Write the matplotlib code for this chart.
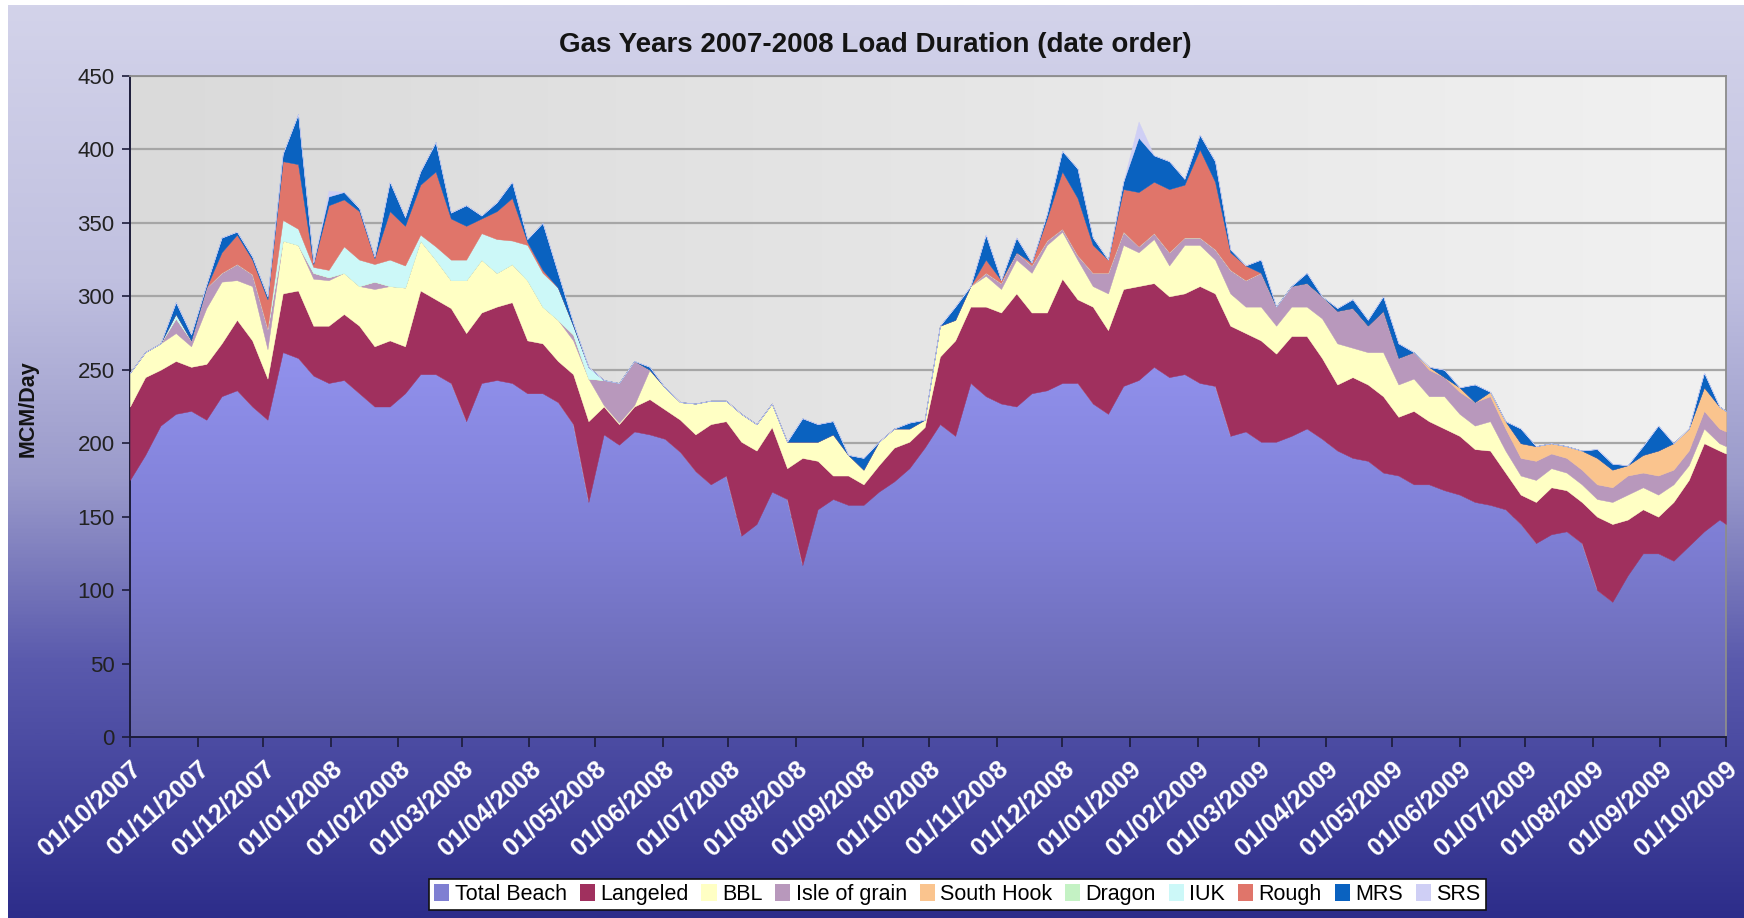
import datetime as dt

import matplotlib
matplotlib.use("Agg")
import matplotlib.dates as mdates
import matplotlib.pyplot as plt
import numpy as np
from matplotlib.colors import LinearSegmentedColormap
from matplotlib.patches import Patch

plt.rcParams["font.family"] = ["Liberation Sans", "DejaVu Sans"]

# weekly readings, 01/10/2007 .. 28/09/2009, plus 01/10/2009
start = dt.date(2007, 10, 1)
dates = [start + dt.timedelta(days=7 * k) for k in range(105)] + [dt.date(2009, 10, 1)]

beach = [175, 192, 212, 220, 222, 216, 232, 236, 225, 216,
         262, 258, 246, 241, 243, 234, 225, 225, 234, 247,
         247, 241, 215, 241, 243, 241, 234, 234, 228, 213,
         160, 206, 199, 208, 206, 203, 194, 181, 172, 178,
         137, 145, 167, 162, 117, 155, 162, 158, 158, 167,
         174, 183, 197, 213, 205, 241, 232, 227, 225, 234,
         236, 241, 241, 227, 220, 239, 243, 252, 245, 247,
         241, 239, 205, 208, 201, 201, 205, 210, 203, 195,
         190, 188, 180, 178, 172, 172, 168, 165, 160, 158,
         155, 145, 132, 138, 140, 132, 100, 92, 110, 125,
         125, 120, 130, 140, 148, 145]
langeled = [50, 53, 38, 36, 30, 38, 36, 48, 45, 28,
            40, 46, 34, 39, 45, 46, 41, 45, 32, 57,
            51, 51, 60, 48, 50, 55, 36, 34, 28, 34,
            55, 19, 14, 17, 24, 20, 22, 25, 41, 37,
            64, 50, 44, 21, 73, 33, 16, 20, 14, 18,
            23, 18, 14, 46, 65, 52, 61, 62, 77, 55,
            53, 71, 57, 66, 57, 66, 64, 57, 55, 55,
            66, 63, 75, 67, 69, 60, 68, 63, 55, 45,
            55, 52, 52, 40, 50, 43, 42, 40, 36, 37,
            25, 20, 28, 32, 28, 28, 50, 53, 38, 30,
            25, 40, 45, 60, 47, 48]
bbl = [23, 17, 18, 19, 14, 38, 42, 27, 37, 20,
       36, 31, 32, 31, 28, 27, 39, 37, 40, 34,
       27, 19, 36, 36, 23, 26, 41, 25, 28, 23,
       29, 1, 1, 1, 20, 15, 12, 21, 16, 14,
       19, 18, 16, 18, 11, 13, 28, 14, 10, 16,
       13, 9, 5, 21, 14, 14, 21, 16, 23, 27,
       46, 32, 27, 14, 25, 30, 23, 30, 21, 33,
       28, 23, 22, 18, 23, 19, 20, 20, 27, 28,
       20, 22, 30, 22, 22, 17, 22, 15, 16, 20,
       15, 13, 15, 13, 12, 12, 12, 15, 17, 15,
       15, 12, 10, 10, 5, 5]
isle_of_grain = [0, 0, 0, 10, 4, 14, 6, 11, 8, 14,
                 0, 0, 4, 2, 0, 0, 5, 0, 0, 0,
                 0, 0, 0, 0, 0, 0, 0, 0, 0, 4,
                 0, 17, 27, 30, 0, 0, 0, 0, 0, 0,
                 0, 0, 0, 0, 0, 0, 0, 0, 0, 0,
                 0, 0, 0, 0, 0, 0, 2, 4, 5, 5,
                 3, 2, 3, 9, 14, 9, 4, 4, 9, 5,
                 5, 7, 16, 18, 23, 13, 14, 16, 15, 22,
                 27, 18, 28, 18, 18, 18, 13, 15, 16, 17,
                 15, 12, 13, 10, 10, 10, 10, 10, 13, 10,
                 13, 10, 10, 12, 10, 10]
south_hook = [0, 0, 0, 0, 0, 0, 0, 0, 0, 0,
              0, 0, 0, 0, 0, 0, 0, 0, 0, 0,
              0, 0, 0, 0, 0, 0, 0, 0, 0, 0,
              0, 0, 0, 0, 0, 0, 0, 0, 0, 0,
              0, 0, 0, 0, 0, 0, 0, 0, 0, 0,
              0, 0, 0, 0, 0, 0, 0, 0, 0, 0,
              0, 0, 0, 0, 0, 0, 0, 0, 0, 0,
              0, 0, 0, 0, 0, 0, 0, 0, 0, 0,
              0, 0, 0, 0, 0, 2, 0, 3, 0, 3,
              5, 10, 10, 7, 8, 13, 18, 12, 7, 12,
              17, 18, 15, 16, 15, 14]
dragon = [0] * 106  # no visible Dragon band anywhere
iuk = [0, 0, 0, 3, 0, 0, 0, 0, 0, 0,
       14, 11, 4, 5, 18, 18, 12, 18, 15, 4,
       9, 14, 14, 18, 23, 16, 24, 23, 22, 6,
       8, 0, 0, 0, 0, 0, 0, 0, 0, 0,
       0, 0, 0, 0, 0, 0, 0, 0, 0, 0,
       0, 0, 0, 0, 0, 0, 0, 0, 0, 0,
       0, 0, 0, 0, 0, 0, 0, 0, 0, 0,
       0, 0, 0, 0, 0, 0, 0, 0, 0, 0,
       0, 0, 0, 0, 0, 0, 0, 0, 0, 0,
       0, 0, 0, 0, 0, 0, 0, 0, 0, 0,
       0, 0, 0, 0, 0, 0]
rough = [0, 0, 0, 0, 0, 0, 14, 20, 10, 20,
         40, 44, 2, 44, 32, 33, 4, 33, 27, 34,
         51, 28, 23, 10, 19, 29, 2, 2, 0, 0,
         0, 0, 0, 0, 0, 0, 0, 0, 0, 0,
         0, 0, 0, 0, 0, 0, 0, 0, 0, 0,
         0, 0, 0, 0, 0, 0, 9, 2, 0, 2,
         15, 39, 39, 19, 9, 29, 37, 35, 43, 36,
         60, 46, 12, 10, 0, 0, 0, 0, 0, 0,
         0, 0, 0, 0, 0, 0, 0, 0, 0, 0,
         0, 0, 0, 0, 0, 0, 0, 0, 0, 0,
         0, 0, 0, 0, 0, 0]
mrs = [0, 0, 0, 8, 4, 2, 10, 2, 2, 2,
       5, 34, 1, 6, 5, 2, 1, 20, 6, 9,
       20, 4, 14, 2, 6, 11, 2, 32, 10, 2,
       0, 0, 0, 0, 2, 0, 0, 0, 0, 0,
       0, 0, 0, 0, 16, 12, 9, 0, 8, 0,
       0, 4, 0, 0, 9, 0, 17, 0, 10, 0,
       3, 14, 20, 5, 0, 5, 37, 18, 19, 4,
       10, 14, 2, 0, 9, 0, 0, 7, 0, 2,
       6, 4, 10, 10, 0, 0, 5, 0, 12, 0,
       0, 10, 0, 0, 0, 0, 6, 4, 0, 6,
       17, 0, 0, 10, 0, 0]
srs = [0, 0, 0, 0, 0, 0, 0, 0, 0, 0,
       0, 0, 0, 4, 0, 0, 0, 0, 0, 0,
       0, 0, 0, 0, 0, 0, 0, 0, 0, 0,
       0, 0, 0, 0, 0, 0, 0, 0, 0, 0,
       0, 0, 0, 0, 0, 0, 0, 0, 0, 0,
       0, 0, 0, 0, 0, 0, 0, 0, 0, 0,
       0, 0, 0, 0, 0, 0, 11, 0, 0, 0,
       0, 0, 0, 0, 0, 0, 0, 0, 0, 0,
       0, 0, 0, 0, 0, 0, 0, 0, 0, 0,
       0, 0, 0, 0, 0, 0, 0, 0, 0, 0,
       0, 0, 0, 0, 0, 0]

series = [
    ("Total Beach", beach, "#8484dc"),
    ("Langeled", langeled, "#a0305e"),
    ("BBL", bbl, "#ffffc4"),
    ("Isle of grain", isle_of_grain, "#b898bc"),
    ("South Hook", south_hook, "#fac48e"),
    ("Dragon", dragon, "#c4f2c4"),
    ("IUK", iuk, "#ccf8f8"),
    ("Rough", rough, "#e0756a"),
    ("MRS", mrs, "#0a62c0"),
    ("SRS", srs, "#cfcff5"),
]

fig = plt.figure(figsize=(17.44, 9.18), dpi=100)
fig.patch.set_facecolor("white")

# chart area background, light lavender at top to dark blue at bottom
bg = fig.add_axes([0.0046, 0.0, 0.9954, 0.995], zorder=-10)
bg_cmap = LinearSegmentedColormap.from_list(
    "bg", [(0.0, "#2d2d8a"), (0.12, "#40409a"), (0.28, "#5a5aad"),
           (0.48, "#9a9acb"), (0.7, "#c0c0e0"), (1.0, "#d3d3ea")])
bg.imshow(np.linspace(0, 1, 512).reshape(-1, 1), cmap=bg_cmap, aspect="auto",
          origin="lower", extent=[0, 1, 0, 1])
bg.set_axis_off()

ax = fig.add_axes([0.0745, 0.1972, 0.9151, 0.7200])
x = mdates.date2num(dates)

plot_cmap = LinearSegmentedColormap.from_list("plotbg", ["#dadada", "#f1f1f1"])
ax.imshow(np.linspace(0, 1, 256).reshape(1, -1), cmap=plot_cmap, aspect="auto",
          extent=[0, 1, 0, 1], transform=ax.transAxes, zorder=0)

base = np.zeros(len(x))
for i, (name, vals, color) in enumerate(series):
    top = base + np.asarray(vals, dtype=float)
    if i == 0:
        poly = ax.fill_between(x, base, top, facecolor="none", lw=0)
        beach_cmap = LinearSegmentedColormap.from_list("beach", ["#6464ab", "#7e7ed4", "#9292ee"])
        im = ax.imshow(np.linspace(0, 1, 256).reshape(-1, 1), cmap=beach_cmap, origin="lower",
                       aspect="auto", extent=[x[0], x[-1], 0, 265], zorder=2)
        im.set_clip_path(poly.get_paths()[0], transform=ax.transData)
    else:
        ax.fill_between(x, base, top, facecolor=color, edgecolor=color, lw=0.3, zorder=3)
    base = top

ax.set_xlim(x[0], x[-1])
ax.set_ylim(0, 450)
ax.set_yticks(range(0, 451, 50))
ax.yaxis.grid(True, color="#a6a6a6", lw=1.6)
ax.set_axisbelow(True)

ax.xaxis.set_major_locator(mdates.MonthLocator(bymonthday=1))
ax.xaxis.set_major_formatter(mdates.DateFormatter("%d/%m/%Y"))

for side in ("left", "bottom"):
    ax.spines[side].set_color("#1c1c3a")
    ax.spines[side].set_linewidth(1.4)
for side in ("top", "right"):
    ax.spines[side].set_color("#8c8c8c")
    ax.spines[side].set_linewidth(1.3)

ax.tick_params(axis="y", direction="out", length=6, width=1.2, color="#1c1c3a",
               labelsize=16, labelcolor="#222222", pad=5)
ax.tick_params(axis="x", direction="out", length=7, width=1.2, color="#1c1c3a",
               labelsize=18.5, labelcolor="white", pad=7)
for lbl in ax.get_xticklabels():
    lbl.set_rotation(42)
    lbl.set_ha("right")
    lbl.set_va("top")
    lbl.set_rotation_mode("anchor")
    lbl.set_fontweight("bold")

fig.text(0.502, 0.9515, "Gas Years 2007-2008 Load Duration (date order)",
         ha="center", va="center", fontsize=20, fontweight="bold", color="#141414")
fig.text(28 / 1744, 1 - 409 / 918, "MCM/Day", rotation=90, ha="center", va="center",
         fontsize=15.5, fontweight="bold", color="#141414")

handles = [Patch(facecolor=c, edgecolor="none") for _, _, c in series]
handles[0] = Patch(facecolor="#7f7fd2", edgecolor="none")
leg = fig.legend(handles, [n for n, _, _ in series], loc="center",
                 bbox_to_anchor=(0.549, 0.0256), ncol=10, frameon=True, fancybox=False,
                 fontsize=15.5, handlelength=0.7, handleheight=0.8, handletextpad=0.25,
                 columnspacing=0.6, borderpad=0.25, borderaxespad=0)
leg.get_frame().set_edgecolor("#111111")
leg.get_frame().set_linewidth(1.2)
leg.get_frame().set_alpha(1)

fig.savefig("out.png", dpi=100)
